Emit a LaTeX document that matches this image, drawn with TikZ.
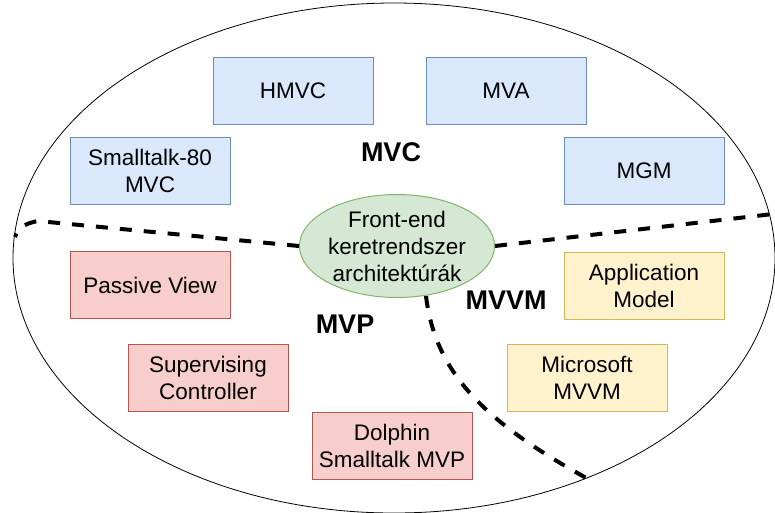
\documentclass[tikz,border=0pt]{standalone}
\usepackage{fontspec}
\setmainfont{Liberation Sans}
\usetikzlibrary{shapes.geometric}
\definecolor{bfill}{HTML}{DAE8FC}\definecolor{bline}{HTML}{6C8EBF}
\definecolor{rfill}{HTML}{F8CECC}\definecolor{rline}{HTML}{B85450}
\definecolor{yfill}{HTML}{FFF2CC}\definecolor{yline}{HTML}{D6B656}
\definecolor{gfill}{HTML}{D5E8D4}\definecolor{gline}{HTML}{82B366}
\begin{document}
\begin{tikzpicture}[x=1pt,y=-1pt,
  box/.style={draw, line width=1pt, minimum width=160pt, minimum height=67pt, align=center, font=\fontsize{22.5}{27}\selectfont, inner sep=0pt},
  bluebox/.style={box, fill=bfill, draw=bline},
  redbox/.style={box, fill=rfill, draw=rline},
  yelbox/.style={box, fill=yfill, draw=yline},
  grouplbl/.style={font=\fontsize{27}{32}\selectfont\bfseries},
  divider/.style={line width=4pt, dash pattern=on 12pt off 12pt}]
\useasboundingbox (0,0) rectangle (775,512);
\clip (0,0) rectangle (775,512);
\node[draw, line width=0.8pt, ellipse, minimum width=762pt, minimum height=510pt, inner sep=0pt] (outer) at (394,258) {};
\node[bluebox] (hmvc) at (293,90.5) {HMVC};
\node[bluebox] (mva) at (506,90.5) {MVA};
\node[bluebox] (st80) at (150,170.5) {Smalltalk-80\\MVC};
\node[bluebox] (mgm) at (644,170.5) {MGM};
\node[redbox] (pv) at (150,285) {Passive View};
\node[redbox] (sc) at (208,377.5) {Supervising\\Controller};
\node[redbox] (dol) at (392,446) {Dolphin\\Smalltalk MVP};
\node[yelbox] (am) at (644,286) {Application\\Model};
\node[yelbox] (ms) at (587,377.5) {Microsoft\\MVVM};
\node[ellipse, draw=gline, fill=gfill, line width=1pt, minimum width=195pt, minimum height=103pt, inner sep=0pt, align=center, font=\fontsize{22.5}{27}\selectfont] (core) at (397,246) {Front-end\\keretrendszer\\architektúrák};
\node[grouplbl] (mvc) at (391,152) {MVC};
\node[grouplbl] (mvp) at (345,324) {MVP};
\node[grouplbl] (mvvm) at (506,300) {MVVM};
\coordinate (lend) at (15,237);
\coordinate (rend) at (773,214);
\coordinate (bend) at (590,480);
\draw[divider] (core.west) -- (38,221) to[out=190,in=70] (lend);
\draw[divider] (core.east) -- (rend);
\draw[divider] (426,296) .. controls (435,370) and (480,420) .. (bend);
\end{tikzpicture}
\end{document}
